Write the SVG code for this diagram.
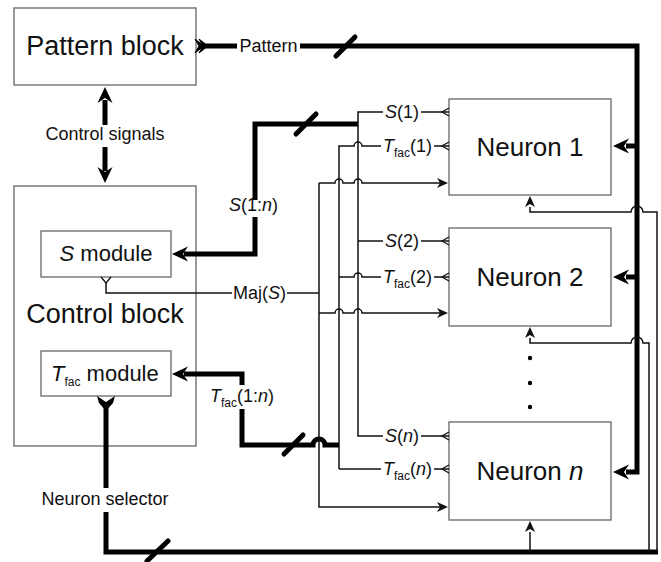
<svg xmlns="http://www.w3.org/2000/svg" width="661" height="562" viewBox="0 0 661 562">
<style>
.box{fill:#fff;stroke:#666;stroke-width:1.3}
.thick{fill:none;stroke:#000;stroke-width:5}
.slash{fill:none;stroke:#000;stroke-width:5;stroke-linecap:round}
.thin{fill:none;stroke:#111;stroke-width:1.5}
.tail{fill:none;stroke:#111;stroke-width:1.3}
text{font-family:"Liberation Sans",Arial,sans-serif;fill:#111}
.big{font-size:27px;text-anchor:middle}
.nlab{font-size:26px;text-anchor:middle}
.mod{font-size:22px}
.lab{font-size:18px}
.mid{text-anchor:middle}
.it{font-style:italic}
.sub{font-size:12px}
.ahK{fill:#000}
.ahT{fill:#111}
</style>
<defs>
<path id="ahK" class="ahK" d="M0,0 L-16,-7.5 L-11,0 L-16,7.5 Z"/>
<path id="ahT" class="ahT" d="M0,0 L-11,-5 L-8,0 L-11,5 Z"/>
<path id="tailN" class="tail" d="M7,-4 L0,0 L7,4"/>
</defs>
<rect width="661" height="562" fill="#fff"/>

<g id="pattern-block">
<rect class="box" x="14" y="8" width="182" height="77"/>
<text class="big" x="105" y="55">Pattern block</text>
</g>
<g id="control-block">
<rect class="box" x="14" y="186" width="182" height="260"/>
<text class="big" x="105" y="323">Control block</text>
</g>
<g id="s-module">
<rect class="box" x="41" y="231" width="130" height="46"/>
<text class="mod mid" x="106" y="261"><tspan class="it">S</tspan> module</text>
</g>
<g id="tfac-module">
<rect class="box" x="41" y="351" width="130" height="45"/>
<text class="mod" x="51" y="381"><tspan class="it">T</tspan><tspan class="sub" font-size="14" dy="5">fac</tspan><tspan dy="-5"> module</tspan></text>
</g>
<g id="neuron-1">
<rect class="box" x="449" y="99" width="162" height="96"/>
<text class="nlab" x="530" y="156">Neuron 1</text>
</g>
<g id="neuron-2">
<rect class="box" x="449" y="228" width="162" height="98"/>
<text class="nlab" x="530" y="286">Neuron 2</text>
</g>
<g id="neuron-n">
<rect class="box" x="449" y="422" width="162" height="98"/>
<text class="nlab" x="530" y="480">Neuron <tspan class="it">n</tspan></text>
</g>

<g id="connectors">
<!-- Pattern bus -->
<path fill="#000" stroke="#000" stroke-width="1" stroke-linejoin="round" d="M195,39 L204,46 L195,53 L199,46 Z M199,39 L208,46 L199,53 L203,46 Z"/>
<path class="thick" d="M205,46 H237 M300,46 H637 V472 H626"/>
<path class="thick" d="M637,146 H626 M637,277 H626"/>
<use href="#ahK" transform="translate(613,146) rotate(180)"/>
<use href="#ahK" transform="translate(613,277) rotate(180)"/>
<use href="#ahK" transform="translate(613,472) rotate(180)"/>
<line class="slash" x1="336" y1="56" x2="355" y2="37"/>
<text class="lab mid" x="268.5" y="52">Pattern</text>

<!-- Control signals -->
<path class="thick" d="M105,100 V125 M105,147 V171"/>
<use href="#ahK" transform="translate(105,87) rotate(-90)"/>
<use href="#ahK" transform="translate(105,183) rotate(90)"/>
<text class="lab mid" x="105" y="140">Control signals</text>

<!-- S(1:n) bus -->
<path class="thick" d="M184,254 H255 V217 M255,200 V124 H358"/>
<use href="#ahK" transform="translate(172,254) rotate(180)"/>
<line class="slash" x1="296" y1="134" x2="316" y2="114"/>
<text class="lab mid" x="253.5" y="211"><tspan class="it">S</tspan>(1:<tspan class="it">n</tspan>)</text>
<path class="thin" d="M449,112 H421 M383,112 H358 V436 H383 M421,436 H449 M358,241 H383 M421,241 H449"/>
<text class="lab" x="385" y="118"><tspan class="it">S</tspan>(1)</text>
<text class="lab" x="385" y="247"><tspan class="it">S</tspan>(2)</text>
<text class="lab" x="385" y="442"><tspan class="it">S</tspan>(<tspan class="it">n</tspan>)</text>

<!-- Tfac bus -->
<path class="thin" d="M339,469 V146 H354 A4,4 0 0 1 362,146 H381 M434,146 H449"/>
<path class="thin" d="M339,277 H354 A4,4 0 0 1 362,277 H381 M434,277 H449"/>
<path class="thin" d="M339,469 H381 M434,469 H449"/>
<text class="lab" x="383" y="152"><tspan class="it">T</tspan><tspan class="sub" dy="5">fac</tspan><tspan dy="-5">(1)</tspan></text>
<text class="lab" x="383" y="283"><tspan class="it">T</tspan><tspan class="sub" dy="5">fac</tspan><tspan dy="-5">(2)</tspan></text>
<text class="lab" x="383" y="475"><tspan class="it">T</tspan><tspan class="sub" dy="5">fac</tspan><tspan dy="-5">(</tspan><tspan class="it">n</tspan>)</text>

<!-- input tails at neurons -->
<use href="#tailN" transform="translate(442,112)"/>
<use href="#tailN" transform="translate(442,146)"/>
<use href="#tailN" transform="translate(442,241)"/>
<use href="#tailN" transform="translate(442,277)"/>
<use href="#tailN" transform="translate(442,436)"/>
<use href="#tailN" transform="translate(442,469)"/>

<!-- Tfac(1:n) bus -->
<path class="thick" d="M184,374 H242 V385 M242,409 V445 H313 A6,6 0 0 1 325,445 H339"/>
<use href="#ahK" transform="translate(172,374) rotate(180)"/>
<line class="slash" x1="284" y1="454" x2="303" y2="435"/>
<text class="lab" x="210" y="402"><tspan class="it">T</tspan><tspan class="sub" dy="5">fac</tspan><tspan dy="-5">(1:</tspan><tspan class="it">n</tspan>)</text>

<!-- Maj(S) -->
<path class="tail" d="M101,277 L106,283 L111,277"/>
<path class="thin" d="M106,283 V293 H232 M287,293 H319"/>
<text class="lab mid" x="259.5" y="299">Maj(<tspan class="it">S</tspan>)</text>
<path class="thin" d="M319,183 V507 H440"/>
<path class="thin" d="M319,183 H335 A4,4 0 0 1 343,183 H354 A4,4 0 0 1 362,183 H440"/>
<path class="thin" d="M319,313 H335 A4,4 0 0 1 343,313 H354 A4,4 0 0 1 362,313 H440"/>
<use href="#ahT" transform="translate(448,183)"/>
<use href="#ahT" transform="translate(448,313)"/>
<use href="#ahT" transform="translate(448,507)"/>

<!-- Neuron selector -->
<path fill="#000" d="M97,396 L106,402 L115,396 L113,403 L106,411 L99,403 Z"/>
<path class="thick" d="M106,405 V488 M106,512 V552 H658"/>
<line class="slash" x1="147" y1="561" x2="168" y2="541"/>
<text class="lab mid" x="105" y="505">Neuron selector</text>
<path class="thin" d="M530,552 V532"/>
<path class="thin" d="M530,338 V343 H631 A6,6 0 0 1 643,343 H649 V552"/>
<path class="thin" d="M530,207 V212 H631 A6,6 0 0 1 643,212 H657 V552"/>
<use href="#ahT" transform="translate(530,521) rotate(-90)"/>
<use href="#ahT" transform="translate(530,327) rotate(-90)"/>
<use href="#ahT" transform="translate(530,196) rotate(-90)"/>
</g>

<g id="dots" fill="#000">
<circle cx="530" cy="358" r="2.2"/>
<circle cx="530" cy="383" r="2.2"/>
<circle cx="530" cy="407" r="2.2"/>
</g>
</svg>
